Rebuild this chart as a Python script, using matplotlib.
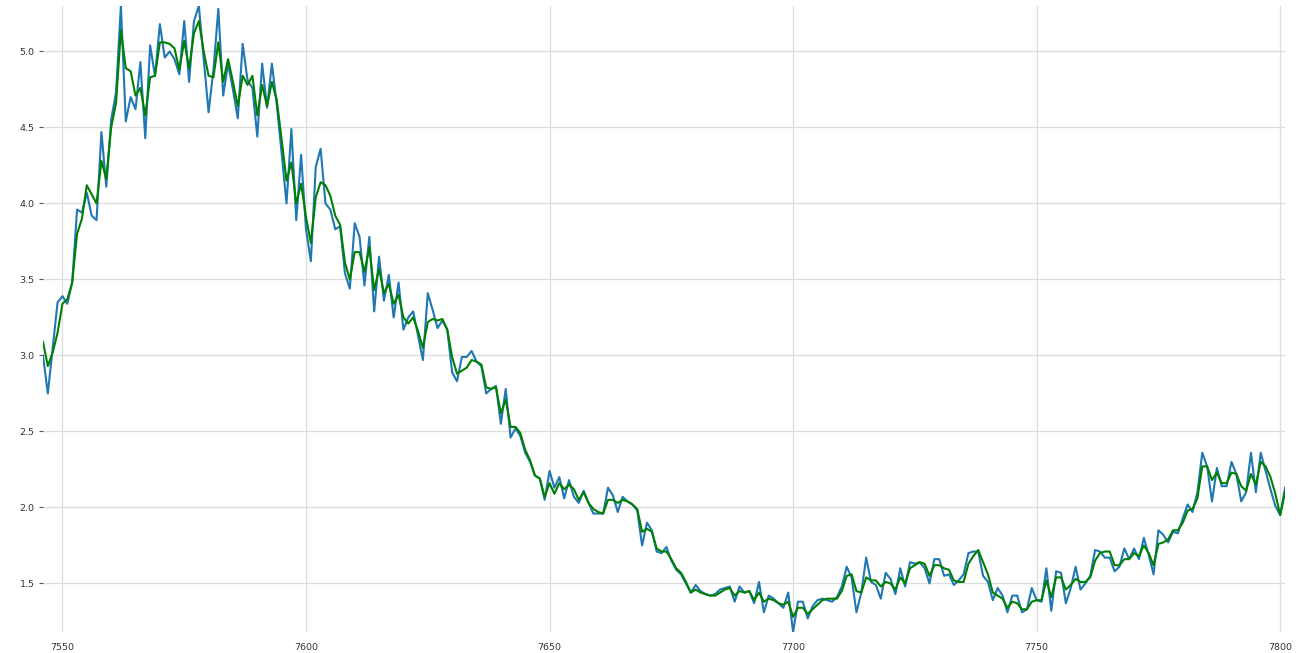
import numpy as np
import matplotlib
matplotlib.use("Agg")
import matplotlib.pyplot as plt

# raw series (blue) and smoothed series (green), one value per step from 7546
start = 7546
raw = [
    3.00, 2.75, 3.05, 3.35, 3.39, 3.34, 3.48, 3.96, 3.94, 4.07,
    3.92, 3.89, 4.47, 4.11, 4.55, 4.73, 5.30, 4.54, 4.70, 4.62,
    4.93, 4.43, 5.04, 4.84, 5.18, 4.96, 5.00, 4.95, 4.85, 5.20,
    4.80, 5.20, 5.30, 4.95, 4.60, 4.88, 5.28, 4.71, 4.92, 4.75,
    4.56, 5.05, 4.81, 4.76, 4.44, 4.92, 4.63, 4.92, 4.65, 4.33,
    4.00, 4.49, 3.89, 4.32, 3.83, 3.62, 4.24, 4.36, 4.00, 3.96,
    3.83, 3.85, 3.54, 3.44, 3.87, 3.78, 3.46, 3.78, 3.29, 3.65,
    3.36, 3.53, 3.25, 3.48, 3.17, 3.25, 3.29, 3.13, 2.97, 3.41,
    3.30, 3.18, 3.23, 3.17, 2.89, 2.83, 2.99, 2.99, 3.03, 2.96,
    2.93, 2.75, 2.78, 2.80, 2.55, 2.78, 2.46, 2.52, 2.47, 2.36,
    2.30, 2.21, 2.19, 2.05, 2.24, 2.13, 2.20, 2.06, 2.18, 2.07,
    2.03, 2.11, 2.03, 1.96, 1.96, 1.96, 2.13, 2.08, 1.97, 2.07,
    2.04, 2.02, 1.98, 1.75, 1.90, 1.85, 1.71, 1.70, 1.74, 1.65,
    1.59, 1.56, 1.50, 1.44, 1.49, 1.45, 1.43, 1.42, 1.43, 1.46,
    1.47, 1.48, 1.38, 1.48, 1.44, 1.45, 1.37, 1.51, 1.31, 1.42,
    1.40, 1.37, 1.34, 1.44, 1.18, 1.38, 1.38, 1.27, 1.35, 1.39,
    1.40, 1.39, 1.38, 1.41, 1.48, 1.61, 1.54, 1.31, 1.44, 1.67,
    1.51, 1.49, 1.40, 1.57, 1.53, 1.43, 1.60, 1.48, 1.64, 1.63,
    1.64, 1.60, 1.50, 1.66, 1.66, 1.55, 1.56, 1.49, 1.52, 1.56,
    1.70, 1.71, 1.71, 1.55, 1.51, 1.39, 1.47, 1.42, 1.31, 1.42,
    1.42, 1.31, 1.33, 1.47, 1.39, 1.38, 1.60, 1.32, 1.58, 1.57,
    1.37, 1.47, 1.61, 1.46, 1.50, 1.55, 1.72, 1.71, 1.67, 1.67,
    1.58, 1.61, 1.73, 1.66, 1.73, 1.66, 1.80, 1.69, 1.56, 1.85,
    1.82, 1.77, 1.84, 1.83, 1.93, 2.02, 1.97, 2.10, 2.36, 2.27,
    2.04, 2.26, 2.14, 2.14, 2.30, 2.22, 2.04, 2.10, 2.36, 2.10,
    2.36, 2.24, 2.12, 2.01, 1.95, 2.13,
]
smooth = [
    3.09, 2.93, 3.02, 3.15, 3.34, 3.37, 3.48, 3.80, 3.90, 4.12,
    4.06, 4.00, 4.28, 4.16, 4.50, 4.66, 5.14, 4.89, 4.87, 4.71,
    4.76, 4.58, 4.83, 4.84, 5.06, 5.06, 5.05, 5.02, 4.88, 5.07,
    4.89, 5.12, 5.20, 5.00, 4.84, 4.83, 5.06, 4.80, 4.95, 4.80,
    4.64, 4.84, 4.78, 4.84, 4.58, 4.78, 4.64, 4.80, 4.68, 4.42,
    4.15, 4.27, 4.00, 4.13, 3.91, 3.74, 4.04, 4.14, 4.12, 4.05,
    3.92, 3.86, 3.61, 3.50, 3.68, 3.68, 3.55, 3.71, 3.43, 3.57,
    3.41, 3.47, 3.34, 3.40, 3.25, 3.21, 3.25, 3.16, 3.05, 3.22,
    3.24, 3.23, 3.24, 3.17, 2.99, 2.88, 2.90, 2.92, 2.97, 2.96,
    2.94, 2.79, 2.78, 2.79, 2.62, 2.71, 2.53, 2.53, 2.49, 2.38,
    2.31, 2.21, 2.19, 2.07, 2.16, 2.09, 2.16, 2.12, 2.15, 2.12,
    2.05, 2.10, 2.03, 1.99, 1.97, 1.96, 2.05, 2.05, 2.03, 2.05,
    2.04, 2.02, 1.99, 1.84, 1.86, 1.84, 1.73, 1.71, 1.71, 1.66,
    1.60, 1.57, 1.51, 1.44, 1.46, 1.44, 1.43, 1.42, 1.42, 1.44,
    1.46, 1.47, 1.42, 1.45, 1.44, 1.45, 1.39, 1.44, 1.38, 1.40,
    1.39, 1.37, 1.36, 1.38, 1.28, 1.34, 1.34, 1.30, 1.33, 1.36,
    1.39, 1.40, 1.40, 1.40, 1.45, 1.55, 1.56, 1.45, 1.44, 1.54,
    1.52, 1.52, 1.48, 1.51, 1.50, 1.46, 1.54, 1.50, 1.60, 1.62,
    1.64, 1.63, 1.55, 1.62, 1.62, 1.60, 1.59, 1.52, 1.51, 1.51,
    1.63, 1.68, 1.72, 1.64, 1.56, 1.44, 1.42, 1.40, 1.34, 1.38,
    1.37, 1.33, 1.33, 1.38, 1.39, 1.39, 1.52, 1.41, 1.54, 1.54,
    1.46, 1.49, 1.53, 1.51, 1.51, 1.54, 1.65, 1.70, 1.71, 1.71,
    1.62, 1.62, 1.66, 1.66, 1.70, 1.68, 1.75, 1.70, 1.62, 1.76,
    1.77, 1.79, 1.85, 1.85, 1.90, 1.98, 1.99, 2.06, 2.27, 2.27,
    2.18, 2.23, 2.16, 2.16, 2.23, 2.22, 2.14, 2.11, 2.22, 2.15,
    2.30, 2.27, 2.20, 2.09, 1.95, 2.10,
]
xticks = [7550, 7600, 7650, 7700, 7750, 7800]
yticks = [1.5, 2.0, 2.5, 3.0, 3.5, 4.0, 4.5, 5.0]

x = np.arange(start, start + len(raw))

fig = plt.figure(figsize=(13.02, 6.53), dpi=100)
ax = fig.add_axes([0.033, 0.032, 0.954, 0.959])

ax.plot(x, raw, color="#1f77b4", lw=1.5)
ax.plot(x, smooth, color="green", lw=1.5)

ax.set_xlim(x[0], x[-1])
ax.set_ylim(min(min(raw), min(smooth)), max(max(raw), max(smooth)))
ax.set_xticks(xticks)
ax.set_yticks(yticks)

ax.grid(True, color="#dddddd", lw=0.9)
ax.set_axisbelow(True)
for s in ax.spines.values():
    s.set_visible(False)
ax.tick_params(axis="x", length=0, pad=8, labelsize=6.8, labelcolor="#333333")
ax.tick_params(axis="y", length=3, width=0.8, color="#555555", pad=3,
               labelsize=6.8, labelcolor="#333333")

fig.savefig("out.png", dpi=100, facecolor="white")
